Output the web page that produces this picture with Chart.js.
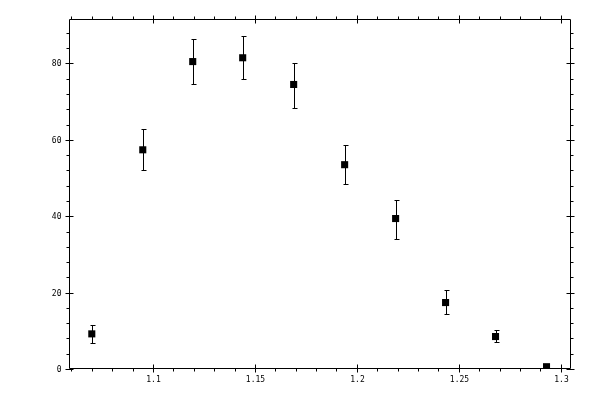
<!DOCTYPE html>
<html><head><meta charset="utf-8">
<script src="https://cdn.jsdelivr.net/npm/chart.js@4"></script>
<style>html,body{margin:0;padding:0;background:#fff}#wrap{width:600px;height:400px;position:relative}</style>
</head><body><div id="wrap"><canvas id="c"></canvas></div>
<script>
const xValues = [1.0700, 1.0950, 1.1195, 1.1440, 1.1690, 1.1940, 1.2190, 1.2435, 1.2680, 1.2930];
const yValues = [9.2, 57.4, 80.5, 81.5, 74.5, 53.5, 39.4, 17.4, 8.5, 0.6];
const yLow    = [6.9, 52.2, 74.5, 76.0, 68.4, 48.5, 34.1, 14.5, 7.0, 0.6];
const yHigh   = [11.4, 62.9, 86.5, 87.3, 80.2, 58.6, 44.3, 20.6, 10.3, 0.6];
const xTickLabels = [1.1, 1.15, 1.2, 1.25, 1.3];
const yTickLabels = [0, 20, 40, 60, 80];
const xMinorStep = 0.01;
const yMinorStep = 4;

const FONT = '8px "DejaVu Sans Mono", monospace';

const framePlugin = {
  id: 'frame',
  afterDatasetsDraw(chart) {
    const ctx = chart.ctx, a = chart.chartArea;
    const xs = chart.scales.x, ys = chart.scales.y;
    const L = Math.round(a.left) + 0.5, R = Math.round(a.right) - 0.5;
    const T = Math.round(a.top) + 0.5, B = Math.round(a.bottom) - 0.5;
    ctx.save();
    ctx.strokeStyle = '#000';
    ctx.lineWidth = 1;
    ctx.beginPath();
    ctx.rect(L, T, R - L, B - T);
    // x ticks
    const xMaj = 4, minLen = 3;
    for (let v = Math.ceil(xs.min / xMinorStep) * xMinorStep; v <= xs.max + 1e-9; v += xMinorStep) {
      const isMaj = xTickLabels.some(t => Math.abs(t - v) < 1e-6);
      const px = Math.round(xs.getPixelForValue(v)) + 0.5;
      if (isMaj) {
        ctx.moveTo(px, B - xMaj); ctx.lineTo(px, B + xMaj);
        ctx.moveTo(px, T - xMaj); ctx.lineTo(px, T + xMaj);
      } else {
        ctx.moveTo(px, B); ctx.lineTo(px, B + minLen);
        ctx.moveTo(px, T); ctx.lineTo(px, T - minLen);
      }
    }
    for (let v = 0; v <= ys.max + 1e-9; v += yMinorStep) {
      const isMaj = yTickLabels.some(t => Math.abs(t - v) < 1e-6);
      const py = Math.round(ys.getPixelForValue(v)) + 0.5;
      if (isMaj) {
        ctx.moveTo(L - xMaj, py); ctx.lineTo(L + xMaj, py);
        ctx.moveTo(R - xMaj, py); ctx.lineTo(R + xMaj, py);
      } else {
        ctx.moveTo(L, py); ctx.lineTo(L - minLen, py);
        ctx.moveTo(R, py); ctx.lineTo(R + minLen, py);
      }
    }
    ctx.stroke();
    // labels
    ctx.fillStyle = '#000';
    ctx.font = FONT;
    ctx.textAlign = 'center';
    ctx.textBaseline = 'middle';
    xTickLabels.forEach(t => {
      ctx.fillText(String(t), Math.round(xs.getPixelForValue(t)) + 0.5, B + 11.5);
    });
    ctx.textAlign = 'right';
    yTickLabels.forEach(t => {
      ctx.fillText(String(t), L - 8, Math.round(ys.getPixelForValue(t)) + 0.5);
    });
    ctx.restore();
  }
};

const errorBarPlugin = {
  id: 'errbars',
  beforeDatasetsDraw(chart) {
    const ctx = chart.ctx, xs = chart.scales.x, ys = chart.scales.y;
    ctx.save();
    ctx.strokeStyle = '#000';
    ctx.lineWidth = 1;
    ctx.beginPath();
    xValues.forEach((x, i) => {
      if (yHigh[i] - yLow[i] < 0.5) return;
      const px = Math.round(xs.getPixelForValue(x)) + 0.5;
      const pl = Math.round(ys.getPixelForValue(yLow[i])) + 0.5;
      const ph = Math.round(ys.getPixelForValue(yHigh[i])) + 0.5;
      ctx.moveTo(px, pl); ctx.lineTo(px, ph);
      ctx.moveTo(px - 2, pl); ctx.lineTo(px + 3, pl);
      ctx.moveTo(px - 2, ph); ctx.lineTo(px + 3, ph);
    });
    ctx.stroke();
    ctx.restore();
  }
};

new Chart(document.getElementById('c'), {
  type: 'scatter',
  data: {
    datasets: [{
      data: xValues.map((x, i) => ({ x: x, y: yValues[i] })),
      pointStyle: 'rect',
      pointRadius: 5,
      pointHoverRadius: 5,
      pointBorderWidth: 0,
      backgroundColor: '#000',
      borderColor: '#000'
    }]
  },
  options: {
    responsive: true,
    maintainAspectRatio: false,
    animation: false,
    devicePixelRatio: 1,
    layout: { padding: { left: 0, right: 29, top: 19, bottom: 0 } },
    plugins: { legend: { display: false }, tooltip: { enabled: false } },
    scales: {
      x: {
        type: 'linear',
        min: 1.05882,
        max: 1.30501,
        grid: { display: false },
        border: { display: false },
        ticks: { display: false },
        afterFit(s) { s.height = 31; }
      },
      y: {
        type: 'linear',
        min: 0,
        max: 91.65,
        grid: { display: false },
        border: { display: false },
        ticks: { display: false },
        afterFit(s) { s.width = 69; }
      }
    }
  },
  plugins: [errorBarPlugin, framePlugin]
});
</script>
</body></html>
